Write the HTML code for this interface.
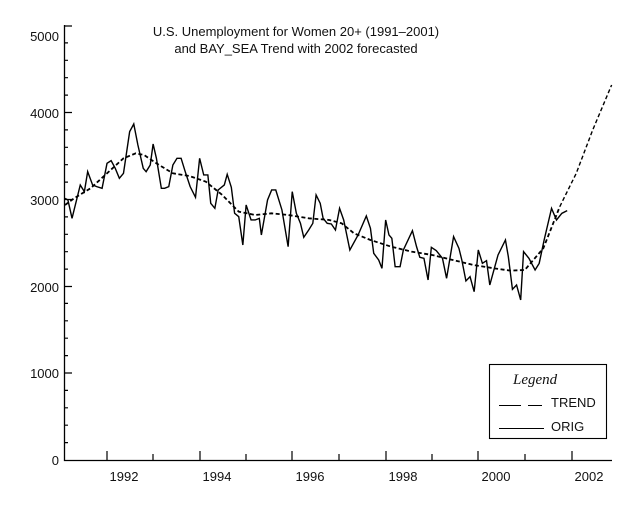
<!DOCTYPE html>
<html><head><style>
html,body{margin:0;padding:0;background:#fff;}
svg{display:block;}
text{font-family:"Liberation Sans",sans-serif;font-size:13px;fill:#111;}
</style></head><body>
<svg width="640" height="512" viewBox="0 0 640 512" xmlns="http://www.w3.org/2000/svg">
<rect width="640" height="512" fill="#fff"/>
<text x="296" y="36" text-anchor="middle">U.S. Unemployment for Women 20+ (1991–2001)</text>
<text x="296" y="53" text-anchor="middle">and BAY_SEA Trend with 2002 forecasted</text>
<g stroke="#000" stroke-width="1.3" fill="none">
<path d="M64.5 25V460.5H612"/>
</g>
<g stroke="#000" stroke-width="1.2">
<path d="M64 373h8M64 286.5h8M64 199.5h8M64 112.5h8M64 26h8"/>
<path d="M64 442.6h4M64 425.2h4M64 407.8h4M64 390.4h4M64 355.6h4M64 338.2h4M64 320.8h4M64 303.4h4M64 269.1h4M64 251.7h4M64 234.3h4M64 216.9h4M64 182.1h4M64 164.7h4M64 147.3h4M64 129.9h4M64 95.1h4M64 77.7h4M64 60.3h4M64 42.9h4"/>
<path d="M107 460v-9M200 460v-9M292 460v-9M386 460v-9M478 460v-9M572 460v-9"/>
<path d="M153 460v-6M246 460v-6M339 460v-6M432 460v-6M525 460v-6"/>
</g>
<g text-anchor="end">
<text x="59" y="465">0</text>
<text x="59" y="378">1000</text>
<text x="59" y="292">2000</text>
<text x="59" y="205">3000</text>
<text x="59" y="118">4000</text>
<text x="59" y="41">5000</text>
</g>
<g text-anchor="middle">
<text x="124" y="481">1992</text>
<text x="217" y="481">1994</text>
<text x="310" y="481">1996</text>
<text x="403" y="481">1998</text>
<text x="496" y="481">2000</text>
<text x="589" y="481">2002</text>
</g>
<g transform="scale(0.4116,0.3333)" fill="none" stroke="#000">
<polyline vector-effect="non-scaling-stroke" stroke-width="1.4" points="158,595 165,600 175,655 195,555 205,575 213,515 225,555 235,560 248,565 260,490 270,482 280,505 290,535 300,520 315,395 325,372 335,435 348,505 355,515 365,495 372,432 380,475 392,565 400,565 410,560 420,495 430,475 440,475 450,515 462,560 475,592 485,475 495,525 505,525 512,610 522,625 530,570 545,555 552,523 562,562 570,640 580,650 590,735 598,615 610,660 620,660 630,655 635,705 650,600 660,570 670,570 685,630 700,740 710,575 720,640 730,670 738,712 750,690 760,670 768,585 778,610 785,655 795,670 805,672 815,690 825,625 835,660 850,750 870,705 890,648 900,685 908,760 920,780 928,805 937,660 945,705 952,715 960,800 972,800 980,750 1002,692 1012,740 1020,772 1030,775 1040,840 1048,742 1060,752 1075,775 1085,835 1102,710 1115,745 1122,780 1132,843 1142,830 1152,875 1162,750 1172,790 1182,782 1190,855 1200,810 1210,765 1228,720 1235,770 1245,868 1255,855 1265,900 1272,755 1285,775 1300,810 1310,790 1322,720 1340,625 1352,660 1365,640 1378,632"/>
<polyline vector-effect="non-scaling-stroke" stroke-width="1.8" stroke-dasharray="4,2.5" points="158,615 180,595 220,565 260,520 300,475 330,460 350,465 380,490 420,520 460,528 500,545 540,585 580,635 620,645 660,640 700,645 750,655 800,660 830,670 860,700 900,720 950,740 1000,755 1050,765 1100,780 1150,795 1200,805 1240,812 1275,810 1320,745 1360,620"/>
<polyline vector-effect="non-scaling-stroke" stroke-width="1.4" stroke-dasharray="4,2.5" points="1360,620 1400,520 1440,390 1486,255"/>
</g>
<rect x="489.5" y="364.5" width="117" height="74" fill="#fff" stroke="#000" stroke-width="1.1"/>
<text x="513" y="384" style="font-family:'Liberation Serif',serif;font-style:italic;font-size:15px">Legend</text>
<path d="M499 405.5h22M528 405.5h14M499 428.5h45" stroke="#000" stroke-width="1.1"/>
<text x="551" y="407">TREND</text>
<text x="551" y="431">ORIG</text>
</svg>
</body></html>
